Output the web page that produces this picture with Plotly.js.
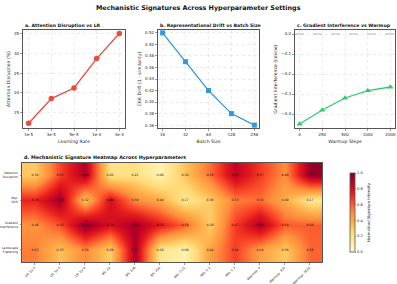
<!DOCTYPE html>
<html><head><meta charset="utf-8">
<script src="https://cdn.plot.ly/plotly-3.0.1.min.js"></script>
<style>html,body{margin:0;padding:0;background:#fff}#c{width:397px;height:284px}</style>
</head><body><div id="c"></div>
<script>
const lrLabels = ["1e-5","3e-5","5e-5","1e-4","3e-4"];
const attnDisruption = [12.2, 18.5, 21.2, 28.7, 35.1];
const batchLabels = ["16","32","64","128","256"];
const ckaDrift = [0.520, 0.470, 0.420, 0.380, 0.360];
const warmupLabels = ["0","250","500","1000","2000"];
const gradInterf = [-0.450, -0.380, -0.320, -0.283, -0.265];
const heatCols = ["LR: 1e-5","LR: 5e-5","LR: 1e-4","BS: 32","BS: 128","BS: 256","WD: 0.01","WD: 0.1","WD: 0.3","Warmup: 0","Warmup: 500","Warmup: 2000"];
const heatRows = ["Attention<br>Disruption","Rep.<br>Drift","Gradient<br>Interference","Landscape<br>Flattening"];
const heatVals = [
  [0.30,0.65,0.90,0.20,0.21,0.08,0.32,0.56,0.86,0.67,0.49,0.95],
  [0.73,0.93,0.32,0.80,0.50,0.40,0.17,0.30,0.53,0.56,0.40,0.17],
  [0.48,0.62,0.97,0.79,0.92,0.76,0.59,0.29,0.67,0.90,0.60,0.60],
  [0.53,0.33,0.50,0.29,0.91,0.18,0.09,0.44,0.66,0.44,0.30,0.58]
];

const F = "DejaVu Sans, sans-serif";
const W = 397, H = 284;
const px = (a,b)=>[a/W, b/W];
const py = (top,bot)=>[(H-bot)/H, (H-top)/H];
const frame = {showline:true, mirror:true, linecolor:"#555", linewidth:1.2, ticks:"outside", ticklen:2, tickwidth:0.6, tickcolor:"#555",
  tickfont:{family:F,size:4,color:"#222"}, showgrid:true, gridcolor:"#ddd", griddash:"dot", gridwidth:0.6, zeroline:false};
const atitle = t=>({text:t, font:{family:F,size:4.6,color:"#222"}, standoff:3});

const ylorrd = [[0,"#ffffcc"],[0.125,"#ffeda0"],[0.25,"#fed976"],[0.375,"#feb24c"],[0.5,"#fd8d3c"],[0.625,"#fc4e2a"],[0.75,"#e31a1c"],[0.875,"#bd0026"],[1,"#800026"]];

const traces = [
  {x:lrLabels, y:attnDisruption, xaxis:"x", yaxis:"y", type:"scatter", mode:"lines+markers",
   line:{color:"#e74c3c",width:1.3}, marker:{color:"#e74c3c",size:5.5,symbol:"circle"}},
  {x:batchLabels, y:ckaDrift, xaxis:"x2", yaxis:"y2", type:"scatter", mode:"lines+markers",
   line:{color:"#3498db",width:1.3}, marker:{color:"#3498db",size:5,symbol:"square"}},
  {x:warmupLabels, y:gradInterf, xaxis:"x3", yaxis:"y3", type:"scatter", mode:"lines+markers",
   line:{color:"#2ecc71",width:1.3}, marker:{color:"#2ecc71",size:5.5,symbol:"triangle-up"}},
  {z:heatVals, x:heatCols, y:heatRows, xaxis:"x4", yaxis:"y4", type:"heatmap", zsmooth:"best",
   colorscale:ylorrd, zmin:0, zmax:1, texttemplate:"%{z:.2f}", textfont:{family:F,size:3.2,color:"#111"},
   colorbar:{x:340/W, xanchor:"left", y:(H-262)/H, yanchor:"bottom", len:99/H, lenmode:"fraction", thickness:5,
     outlinecolor:"#555", outlinewidth:0.8, ticks:"outside", ticklen:1.5, tickwidth:0.5,
     tickvals:[0,0.2,0.4,0.6,0.8,1.0], ticktext:["0.0","0.2","0.4","0.6","0.8","1.0"],
     tickfont:{family:F,size:3.6,color:"#222"},
     title:{text:"Normalized Signature Intensity", side:"right", font:{family:F,size:3.8,color:"#222"}}}}
];

const layout = {
  width:W, height:H, margin:{l:0,r:0,t:0,b:0}, showlegend:false, paper_bgcolor:"#fff", plot_bgcolor:"#fff",
  xaxis:Object.assign({}, frame, {domain:px(23,125), anchor:"y", type:"category", range:[-0.25,4.25], title:atitle("Learning Rate")}),
  yaxis:Object.assign({}, frame, {domain:py(30,128), anchor:"x", range:[11,36], tickvals:[15,20,25,30,35], title:atitle("Attention Disruption (%)")}),
  xaxis2:Object.assign({}, frame, {domain:px(158,259), anchor:"y2", type:"category", range:[-0.2,4.2], title:atitle("Batch Size")}),
  yaxis2:Object.assign({}, frame, {domain:py(30,128), anchor:"x2", range:[0.355,0.525], tickvals:[0.36,0.38,0.40,0.42,0.44,0.46,0.48,0.50,0.52], tickformat:".2f", title:atitle("CKA Drift (1 - similarity)")}),
  xaxis3:Object.assign({}, frame, {domain:px(295,395), anchor:"y3", type:"category", range:[-0.2,4.2], title:atitle("Warmup Steps")}),
  yaxis3:Object.assign({}, frame, {domain:py(30,128), anchor:"x3", range:[-0.47,0.02], tickvals:[0,-0.1,-0.2,-0.3,-0.4], tickformat:".1f", title:atitle("Gradient Interference (cosine)")}),
  xaxis4:Object.assign({}, frame, {domain:px(22,322), anchor:"y4", showgrid:false, tickangle:-45, ticks:"outside", ticklen:1.5, tickfont:{family:F,size:3.2,color:"#222"}}),
  yaxis4:Object.assign({}, frame, {domain:py(163,262), anchor:"x4", showgrid:false, autorange:"reversed", ticklen:1.2, ticklabelstandoff:1, tickfont:{family:F,size:3.0,color:"#222"}}),
  shapes:[
    {type:"line", xref:"x3 domain", yref:"y3", x0:0, x1:1, y0:0, y1:0, line:{color:"#999",width:0.7,dash:"dash"}}
  ],
  annotations:[
    {text:"<b>Mechanistic Signatures Across Hyperparameter Settings</b>", x:0.5, y:1-8/H, xref:"paper", yref:"paper", xanchor:"center", yanchor:"middle", showarrow:false, font:{family:F,size:6.4,color:"#111"}},
    {text:"<b>a. Attention Disruption vs LR</b>", x:23/W, y:1-26/H, xref:"paper", yref:"paper", xanchor:"left", yanchor:"middle", showarrow:false, font:{family:F,size:4.6,color:"#111"}},
    {text:"<b>b. Representational Drift vs Batch Size</b>", x:158/W, y:1-26/H, xref:"paper", yref:"paper", xanchor:"left", yanchor:"middle", showarrow:false, font:{family:F,size:4.6,color:"#111"}},
    {text:"<b>c. Gradient Interference vs Warmup</b>", x:295/W, y:1-26/H, xref:"paper", yref:"paper", xanchor:"left", yanchor:"middle", showarrow:false, font:{family:F,size:4.6,color:"#111"}},
    {text:"<b>d. Mechanistic Signature Heatmap Across Hyperparameters</b>", x:22/W, y:1-158/H, xref:"paper", yref:"paper", xanchor:"left", yanchor:"middle", showarrow:false, font:{family:F,size:4.8,color:"#111"}}
  ]
};
Plotly.newPlot("c", traces, layout, {staticPlot:true, displayModeBar:false});
</script></body></html>
